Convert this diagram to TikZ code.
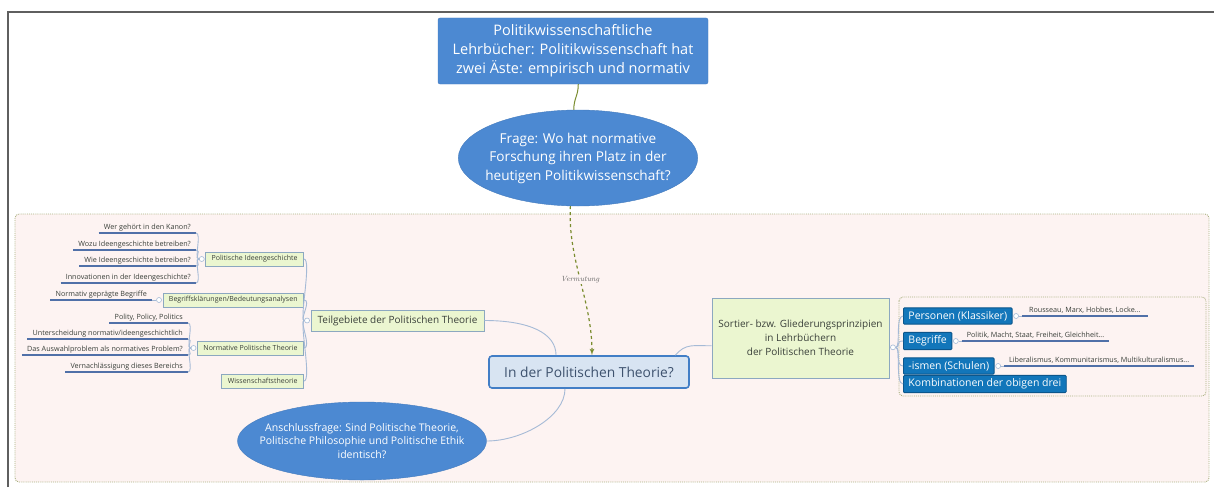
\documentclass[tikz,border=0pt]{standalone}
\usepackage{fontspec}
\setsansfont{Open Sans}
\renewcommand{\familydefault}{\sfdefault}
\usepackage{tikz}
\usetikzlibrary{arrows,shapes.geometric}

\definecolor{topblue}{RGB}{76,137,210}
\definecolor{darkblue}{RGB}{18,118,186}
\definecolor{darkblueline}{RGB}{12,86,140}
\definecolor{paleblue}{RGB}{216,228,242}
\definecolor{centralline}{RGB}{66,126,198}
\definecolor{centraltext}{RGB}{62,82,110}
\definecolor{palegreen}{RGB}{235,246,208}
\definecolor{greenline}{RGB}{140,168,192}
\definecolor{darktext}{RGB}{58,64,58}
\definecolor{branchline}{RGB}{165,186,214}
\definecolor{leafline}{RGB}{80,112,168}
\definecolor{pinkfill}{RGB}{253,243,242}
\definecolor{dotline}{RGB}{170,176,128}
\definecolor{olive}{RGB}{122,140,46}
\definecolor{framegray}{RGB}{95,95,95}

\begin{document}
\begin{tikzpicture}[x=1pt, y=-1pt]
\useasboundingbox (0,0) rectangle (1214,487);

\tikzset{topic/.style = {shape=rectangle, rounded corners=2pt, fill=topblue, draw=topblue!90!black, text=white, align=center, font=\fontsize{14.5}{19}\selectfont, minimum width=270, minimum height=66}}
\tikzset{question/.style = {shape=ellipse, fill=topblue, draw=topblue!90!black, text=white, align=center, inner ysep=0pt}}
\tikzset{central/.style = {shape=rectangle, rounded corners=3pt, fill=paleblue, draw=centralline, line width=1.6pt, text=centraltext, font=\fontsize{13.8}{16}\selectfont, minimum width=200, minimum height=32}}
\tikzset{subtopic/.style = {shape=rectangle, fill=palegreen, draw=greenline, line width=0.9pt, text=darktext, inner xsep=6pt}}
\tikzset{greenbox/.style = {subtopic, font=\fontsize{7}{8.5}\selectfont, minimum height=14, anchor=east}}
\tikzset{bluetopic/.style = {shape=rectangle, rounded corners=1pt, fill=darkblue, draw=darkblueline, line width=0.9pt, text=white, font=\fontsize{10.5}{12}\selectfont, inner xsep=5pt, minimum height=16, anchor=west}}
\tikzset{uline/.style = {draw=leafline, line width=1.3pt}}
\tikzset{leaf/.style = {font=\fontsize{7.2}{8.5}\selectfont, text=darktext, inner xsep=5pt, inner ysep=1.5pt, text depth=1.5pt, append after command={(\tikzlastnode.south west) edge[uline] (\tikzlastnode.south east)}}}
\tikzset{knob/.style = {shape=circle, draw=branchline, fill=white, line width=0.6pt, minimum size=5pt, inner sep=0pt}}
\tikzset{branch/.style = {draw=branchline, line width=0.9pt}}
\tikzset{lead/.style = {draw=olive, line width=1pt}}
\tikzset{guess/.style = {->, >=latex', dashed, draw=olive, line width=1.2pt}}
\tikzset{guesslabel/.style = {font=\rmfamily\itshape\fontsize{7.5}{9}\selectfont, text=gray!75!black, fill=pinkfill, inner sep=1pt}}
\tikzset{dotframe/.style = {fill=pinkfill, draw=dotline, densely dotted, line width=0.9pt, rounded corners=4pt}}

% frames
\draw[framegray, line width=1.5pt] (8,487) -- (8,12) -- (1214,12);
\draw[dotframe] (15,214) rectangle (1209,482);
\draw[dotframe] (899,297) rectangle (1206,396);

% vertices
\node[topic] (top) at (573,51) {Politikwissenschaftliche\\Lehrbücher: Politikwissenschaft hat\\zwei Äste: empirisch und normativ};
\node[question, font=\fontsize{13.6}{18.5}\selectfont, inner xsep=-8pt, minimum width=234, minimum height=96] (frage) at (578,158) {Frage: Wo hat normative\\Forschung ihren Platz in der\\heutigen Politikwissenschaft?};
\node[central] (mitte) at (589,372) {In der Politischen Theorie?};
\node[subtopic, font=\fontsize{10}{12}\selectfont, minimum width=173, minimum height=21] (teil) at (397.5,320.5) {Teilgebiete der Politischen Theorie};
\node[subtopic, font=\fontsize{10}{14}\selectfont, align=center, minimum width=177, minimum height=80] (sortier) at (800.5,338) {Sortier- bzw. Gliederungsprinzipien\\in Lehrbüchern\\der Politischen Theorie};
\node[question, font=\fontsize{10.5}{13.5}\selectfont, inner xsep=-16pt, minimum width=249, minimum height=78] (anschluss) at (362,441) {Anschlussfrage: Sind Politische Theorie,\\Politische Philosophie und Politische Ethik\\identisch?};

\node[greenbox] (ideen) at (304,259) {Politische Ideengeschichte};
\node[greenbox] (begriff) at (304,300) {Begriffsklärungen/Bedeutungsanalysen};
\node[greenbox] (normativ) at (304,348) {Normative Politische Theorie};
\node[greenbox] (wiss) at (304,381) {Wissenschaftstheorie};

\node[leaf, anchor=south east] (kanon) at (196,233) {Wer gehört in den Kanon?};
\node[leaf, anchor=south east] (wozu) at (196,250) {Wozu Ideengeschichte betreiben?};
\node[leaf, anchor=south east] (wie) at (196,266) {Wie Ideengeschichte betreiben?};
\node[leaf, anchor=south east] (innov) at (196,283) {Innovationen in der Ideengeschichte?};
\node[leaf, anchor=south east] (gepraegt) at (152,300) {Normativ geprägte Begriffe};
\node[leaf, anchor=south east] (polity) at (188,323) {Polity, Policy, Politics};
\node[leaf, anchor=south east] (unter) at (188,339) {Unterscheidung normativ/ideengeschichtlich};
\node[leaf, anchor=south east] (auswahl) at (188,355) {Das Auswahlproblem als normatives Problem?};
\node[leaf, anchor=south east] (vernach) at (188,372) {Vernachlässigung dieses Bereichs};

\node[bluetopic] (personen) at (903,316) {Personen (Klassiker)};
\node[bluetopic] (begriffe) at (903,341) {Begriffe};
\node[bluetopic] (ismen) at (903,366) {-ismen (Schulen)};
\node[bluetopic] (kombi) at (903,384) {Kombinationen der obigen drei};

% knobs
\node[knob, xshift=-3.5pt] (teil-k) at (teil.west) {};
\node[knob, xshift=-3.5pt] (ideen-k) at (ideen.west) {};
\node[knob, xshift=-3.5pt] (begriff-k) at (begriff.west) {};
\node[knob, xshift=-3.5pt] (normativ-k) at (normativ.west) {};
\node[knob, xshift=3.5pt] (sortier-k) at (sortier.-6) {};
\node[knob, xshift=3.5pt] (personen-k) at (personen.east) {};
\node[knob, xshift=3.5pt] (begriffe-k) at (begriffe.east) {};
\node[knob, xshift=3.5pt] (ismen-k) at (ismen.east) {};

\node[leaf, anchor=south west, xshift=3pt, inner xsep=7pt] (klassiker) at (personen-k.east) {Rousseau, Marx, Hobbes, Locke...};
\node[leaf, anchor=south west, xshift=3pt] (konzepte) at (begriffe-k.east) {Politik, Macht, Staat, Freiheit, Gleichheit...};
\node[leaf, anchor=south west, xshift=3pt] (schulen) at (ismen-k.east) {Liberalismus, Kommunitarismus, Multikulturalismus...};

%edges
\draw[lead] (top.-81) .. controls +(0,12) and +(0,-12) .. (frage.95);
\draw[guess] (frage.261) .. controls +(-3,53) and +(0,-55) .. node[guesslabel] {Vermutung} (mitte.80);

\draw[branch] (mitte.153) .. controls +(0,-22) and +(45,0) .. (teil.east);
\draw[branch] (mitte.11) .. controls +(10,-12) and +(-18,0) .. (sortier.185);
\draw[branch] (mitte.215) .. controls +(0,28) and +(35,0) .. (anschluss.east);

\draw[branch] (teil-k) .. controls +(-8,0) and +(8,0) .. (ideen.east);
\draw[branch] (teil-k) .. controls +(-8,0) and +(8,0) .. (begriff.east);
\draw[branch] (teil-k) .. controls +(-8,0) and +(8,0) .. (normativ.east);
\draw[branch] (teil-k) .. controls +(-8,0) and +(8,0) .. (wiss.east);

\draw[branch] (ideen-k) .. controls +(-8,0) and +(6,0) .. (kanon.south east);
\draw[branch] (ideen-k) .. controls +(-8,0) and +(6,0) .. (wozu.south east);
\draw[branch] (ideen-k) .. controls +(-8,0) and +(6,0) .. (wie.south east);
\draw[branch] (ideen-k) .. controls +(-8,0) and +(6,0) .. (innov.south east);
\draw[branch] (begriff-k) -- (gepraegt.south east);
\draw[branch] (normativ-k) .. controls +(-8,0) and +(6,0) .. (polity.south east);
\draw[branch] (normativ-k) .. controls +(-8,0) and +(6,0) .. (unter.south east);
\draw[branch] (normativ-k) .. controls +(-8,0) and +(6,0) .. (auswahl.south east);
\draw[branch] (normativ-k) .. controls +(-8,0) and +(6,0) .. (vernach.south east);

\draw[branch] (sortier-k) .. controls +(8,0) and +(-8,0) .. (personen.west);
\draw[branch] (sortier-k) .. controls +(8,0) and +(-8,0) .. (begriffe.west);
\draw[branch] (sortier-k) .. controls +(8,0) and +(-8,0) .. (ismen.west);
\draw[branch] (sortier-k) .. controls +(8,0) and +(-8,0) .. (kombi.west);
\draw[branch] (personen-k) -- (klassiker.south west);
\draw[branch] (begriffe-k) -- (konzepte.south west);
\draw[branch] (ismen-k) -- (schulen.south west);

\end{tikzpicture}
\end{document}
